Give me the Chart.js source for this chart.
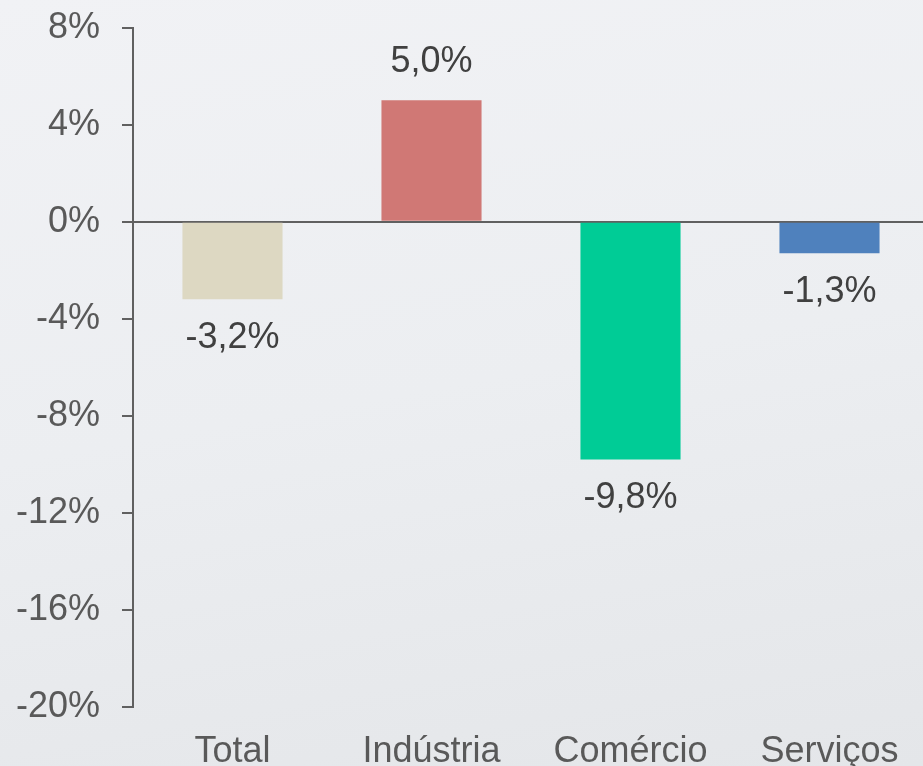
<!DOCTYPE html>
<html>
<head>
<meta charset="utf-8">
<script src="https://cdn.jsdelivr.net/npm/chart.js@4.4.1/dist/chart.umd.min.js"></script>
<style>
    html, body { margin: 0; padding: 0; overflow: hidden; }
    body {
        width: 923px; height: 766px;
        background: linear-gradient(170deg, #f1f2f5 0%, #eceef1 50%, #e4e6e9 100%);
    }
    #wrap { position: relative; top: -16px; width: 929px; height: 786px; }
</style>
</head>
<body>
<div id="wrap"><canvas id="myChart"></canvas></div>
<script>
const categories = ['Total', 'Indústria', 'Comércio', 'Serviços'];
const values = [-3.2, 5.0, -9.8, -1.3];
const barColors = ['#ddd8c2', '#d07875', '#00cc96', '#4f81bd'];
const yTicks = [8, 4, 0, -4, -8, -12, -16, -20];

const fontFamily = '"Liberation Sans", Arial, sans-serif';
const axisColor = '#606060';

// labels above / below each bar, written like 5,0%
const valueLabels = {
    id: 'valueLabels',
    afterDatasetsDraw(chart) {
        const ctx = chart.ctx;
        const meta = chart.getDatasetMeta(0);
        ctx.save();
        ctx.font = '36px ' + fontFamily;
        ctx.fillStyle = '#404040';
        ctx.textAlign = 'center';
        ctx.textBaseline = 'middle';
        meta.data.forEach((bar, i) => {
            const v = values[i];
            const txt = v.toFixed(1).replace('.', ',') + '%';
            const y = v >= 0 ? bar.y - 38 : bar.y + 39;
            ctx.fillText(txt, bar.x, y);
        });
        ctx.restore();
    }
};

const ctx = document.getElementById('myChart').getContext('2d');
const myChart = new Chart(ctx, {
    type: 'bar',
    data: {
        labels: categories,
        datasets: [{
            data: values,
            backgroundColor: barColors,
            borderWidth: 0,
            categoryPercentage: 1,
            barPercentage: 0.503
        }]
    },
    options: {
        responsive: true,
        maintainAspectRatio: false,
        animation: false,
        layout: { padding: { top: 0, right: 0, left: 0, bottom: -20 } },
        plugins: {
            legend: { display: false },
            tooltip: { enabled: false }
        },
        scales: {
            x: {
                grid: { display: false },
                border: { display: false },
                ticks: {
                    padding: 16,
                    color: '#595959',
                    font: { family: fontFamily, size: 36 }
                }
            },
            y: {
                min: -20,
                max: 8,
                afterFit: scale => { scale.width = 133; },
                afterBuildTicks: scale => { scale.ticks = yTicks.map(v => ({ value: v })); },
                border: { display: true, color: axisColor, width: 2 },
                grid: {
                    drawOnChartArea: true,
                    color: c => (c.tick && c.tick.value === 0) ? axisColor : 'rgba(0,0,0,0)',
                    lineWidth: 2,
                    tickColor: axisColor,
                    tickLength: 11
                },
                ticks: {
                    padding: 22,
                    color: '#595959',
                    font: { family: fontFamily, size: 36 },
                    callback: v => v + '%'
                }
            }
        }
    },
    plugins: [valueLabels]
});
</script>
</body>
</html>
